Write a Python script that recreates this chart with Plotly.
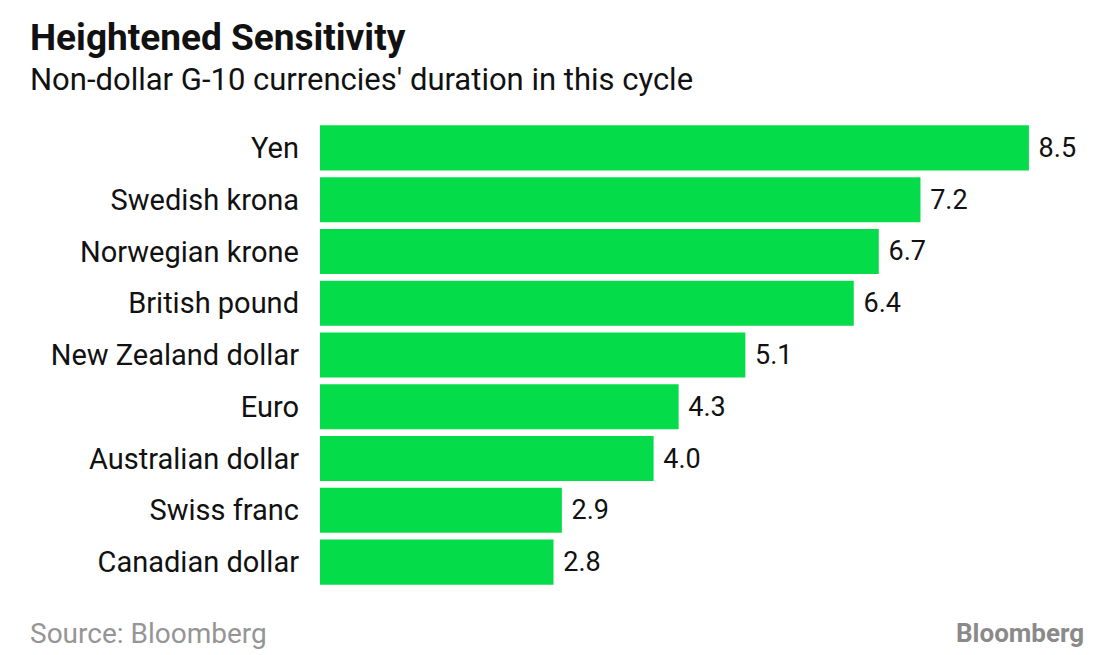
import plotly.graph_objects as go

categories = ["Yen", "Swedish krona", "Norwegian krone", "British pound",
              "New Zealand dollar", "Euro", "Australian dollar", "Swiss franc",
              "Canadian dollar"]
values = [8.5, 7.2, 6.7, 6.4, 5.1, 4.3, 4.0, 2.9, 2.8]
value_labels = [f" {v:.1f}" for v in values]

FONT = "Roboto"
OFF = 8  # page body margin offset

W, H = 1100, 655
pl, pr, pt, pb = 320 - OFF, 30, 122 - OFF, 67 + OFF
pw, ph = W - pl - pr, H - pt - pb

fig = go.Figure(go.Bar(
    x=values,
    y=categories,
    orientation="h",
    marker=dict(color="#05dc4a", line=dict(width=0)),
    text=value_labels,
    textposition="outside",
    textfont=dict(family=FONT, size=27, color="#111111"),
    cliponaxis=False,
    hoverinfo="skip",
))

xmax = pw / 83.4

fig.update_layout(
    width=W, height=H,
    paper_bgcolor="white", plot_bgcolor="white",
    margin=dict(l=pl, r=pr, t=pt, b=pb),
    bargap=0.13,
    showlegend=False,
    xaxis=dict(range=[0, xmax], visible=False, fixedrange=True),
    yaxis=dict(autorange="reversed", showgrid=False, zeroline=False,
               showline=False, ticks="", ticklabelstandoff=20,
               tickfont=dict(family=FONT, size=29, color="#111111")),
    font=dict(family=FONT),
)


def px_to_paper(x, y):
    x -= OFF
    y -= OFF
    return (x - pl) / pw, 1 - (y - pt) / ph


def add_text(text, x, y, size, color, xanchor="left", yanchor="middle"):
    px, py = px_to_paper(x, y)
    fig.add_annotation(text=text, x=px, y=py, xref="paper", yref="paper",
                       showarrow=False, xanchor=xanchor, yanchor=yanchor,
                       font=dict(family=FONT, size=size, color=color))


add_text("<b>Heightened Sensitivity</b>", 28, 38, 37, "#111111")
add_text("Non-dollar G-10 currencies' duration in this cycle", 28, 80, 31, "#111111")
add_text("Source: Bloomberg", 28, 633, 28, "#959595")
add_text("<b>Bloomberg</b>", 1086, 633, 26, "#8a8a8a", xanchor="right")

fig.write_html("out.html")
